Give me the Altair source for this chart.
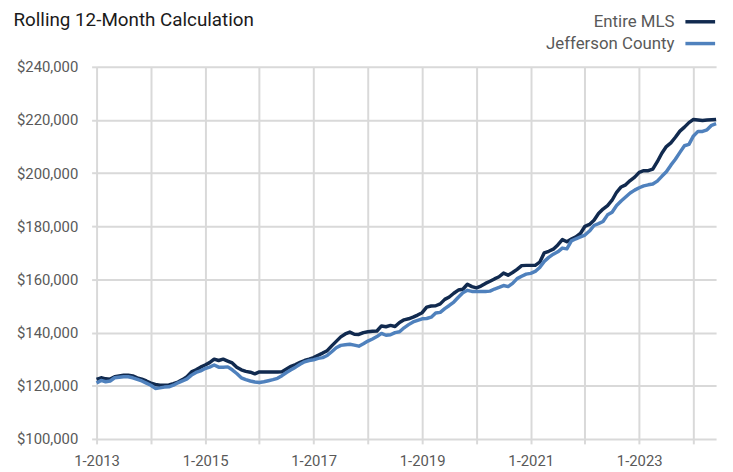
import altair as alt
import pandas as pd

# ---- data (values in $ thousands, monthly from 1-2013) ----
series_names = ["Entire MLS", "Jefferson County"]
series_colors = ["#112a4f", "#4f81bd"]

entire_mls = [
    122.4, 123.0, 122.6, 122.5, 123.4, 123.7, 124.0, 124.0, 123.7, 123.0, 122.5, 121.8,
    121.0, 120.5, 120.2, 120.2, 120.3, 120.8, 121.4, 122.3, 123.4, 125.2, 126.0, 127.0,
    127.8, 128.7, 130.0, 129.5, 130.0, 129.3, 128.6, 127.0, 126.0, 125.4, 125.1, 124.5,
    125.2, 125.2, 125.2, 125.2, 125.2, 125.3, 126.3, 127.3, 128.0, 128.8, 129.5, 130.0,
    130.6, 131.5, 132.3, 133.2, 135.0, 136.7, 138.4, 139.5, 140.2, 139.4, 139.3, 140.0,
    140.3, 140.5, 140.6, 142.5, 142.2, 142.7, 142.3, 143.8, 144.8, 145.2, 145.8, 146.6,
    147.5, 149.6, 150.0, 150.1, 150.8, 152.5, 153.4, 154.8, 156.0, 156.3, 158.2, 157.3,
    156.8, 157.5, 158.5, 159.3, 160.2, 161.0, 162.4, 161.6, 162.6, 163.8, 165.2, 165.3,
    165.3, 165.3, 166.5, 170.0, 170.6, 171.4, 173.0, 175.0, 174.2, 175.2, 176.0, 177.3,
    180.0, 180.7, 182.3, 184.8, 186.5, 187.8, 189.8, 192.8, 194.8, 195.6, 197.2, 198.5,
    200.3, 200.9, 200.9, 201.5, 204.3, 207.5, 210.0, 211.4, 213.5, 215.8, 217.3, 219.0,
    220.2, 220.0, 219.8, 220.0, 220.1, 220.2,
]

jefferson_county = [
    121.0, 122.0, 121.5, 121.8, 123.0, 123.2, 123.4, 123.4, 123.0, 122.4, 121.8, 121.0,
    120.2, 119.0, 119.2, 119.5, 119.6, 120.2, 121.1, 121.8, 122.6, 124.0, 125.0, 125.6,
    126.5, 127.0, 127.8, 127.0, 127.0, 127.1, 126.0, 124.6, 123.0, 122.3, 121.8, 121.4,
    121.2, 121.5, 121.9, 122.3, 122.8, 123.8, 125.0, 126.0, 127.0, 128.1, 129.0, 129.5,
    129.8, 130.3, 130.6, 131.4, 132.8, 134.3, 135.2, 135.4, 135.6, 135.3, 134.9, 135.8,
    136.8, 137.6, 138.5, 139.7, 139.0, 139.2, 140.0, 140.3, 141.8, 143.0, 144.0, 144.6,
    145.2, 145.3, 145.8, 147.4, 147.6, 149.0, 150.2, 151.5, 153.3, 155.0, 155.9, 155.5,
    155.5, 155.5, 155.5, 155.6, 156.4, 157.0, 157.7, 157.3, 158.5, 160.3, 161.2, 162.0,
    162.3, 163.0, 164.5, 166.8, 168.3, 169.5, 170.4, 171.8, 171.5, 174.5, 175.3, 176.0,
    176.7, 178.2, 180.3, 181.0, 181.8, 184.3, 185.3, 187.8, 189.5, 191.0, 192.5, 193.6,
    194.5, 195.2, 195.6, 195.9, 197.0, 198.8, 200.5, 203.0, 205.2, 207.8, 210.3, 210.8,
    214.0, 215.7, 215.7, 216.3, 218.0, 218.6,
]

y_ticks = [100000, 120000, 140000, 160000, 180000, 200000, 220000, 240000]
first_year = 2013

rows = []
for name, vals in zip(series_names, [entire_mls, jefferson_county]):
    for i, v in enumerate(vals):
        rows.append({"series": name, "month": i, "value": v * 1000})
df = pd.DataFrame(rows)
n_months = len(entire_mls) - 1

FONT = "Roboto"
GRID = "#d9d9d9"
LABEL = "#595959"

W, H = 626, 376

x_enc = alt.X(
    "month:Q",
    scale=alt.Scale(domain=[0, n_months], nice=False, zero=False),
    axis=alt.Axis(
        values=list(range(0, n_months + 1, 12)),
        labelExpr=f"datum.value % 24 == 0 ? '1-' + ({first_year} + datum.value / 12) : ''",
        title=None,
        grid=True,
        gridColor=GRID,
        gridWidth=2,
        tickColor=GRID,
        tickWidth=2,
        tickSize=5,
        domain=False,
        labelFont=FONT,
        labelFontSize=15,
        labelColor=LABEL,
        labelPadding=10,
        labelFlush=False,
    ),
)
y_enc = alt.Y(
    "value:Q",
    scale=alt.Scale(domain=[100000, 240000], nice=False, zero=False),
    axis=alt.Axis(
        values=y_ticks,
        format="$,.0f",
        title=None,
        grid=True,
        gridColor=GRID,
        gridWidth=2,
        tickColor=GRID,
        tickWidth=2,
        tickSize=5,
        domain=False,
        labelFont=FONT,
        labelFontSize=15,
        labelColor=LABEL,
        labelPadding=14,
    ),
)

lines = alt.Chart(df).mark_line(strokeWidth=3.5, strokeJoin="round").encode(
    x=x_enc,
    y=y_enc,
    color=alt.Color(
        "series:N",
        scale=alt.Scale(domain=series_names, range=series_colors),
        legend=None,
    ),
    order=alt.Order("month:Q"),
)

one = pd.DataFrame({"k": [0]})

title = alt.Chart(one).mark_text(
    text="Rolling 12-Month Calculation", font=FONT, fontSize=19, color="#1a1a1a",
    align="left", baseline="alphabetic",
).encode(x=alt.value(-84), y=alt.value(-41))

legend_layers = []
legend_y = [-40, -18]
for name, color, ly in zip(series_names, series_colors, legend_y):
    legend_layers.append(
        alt.Chart(one).mark_text(
            text=name, font=FONT, fontSize=17, color=LABEL,
            align="right", baseline="alphabetic",
        ).encode(x=alt.value(584), y=alt.value(ly))
    )
    legend_layers.append(
        alt.Chart(one).mark_rule(color=color, strokeWidth=3.5).encode(
            x=alt.value(595), x2=alt.value(625), y=alt.value(ly - 5.5)
        )
    )

chart = alt.layer(lines, title, *legend_layers).properties(
    width=W,
    height=H,
    autosize=alt.AutoSizeParams(type="none"),
    padding={"left": 89.5, "top": 57, "right": 9, "bottom": 31},
).configure_view(stroke=None)

chart.save("out.html", embed_options={"renderer": "svg", "actions": False})
